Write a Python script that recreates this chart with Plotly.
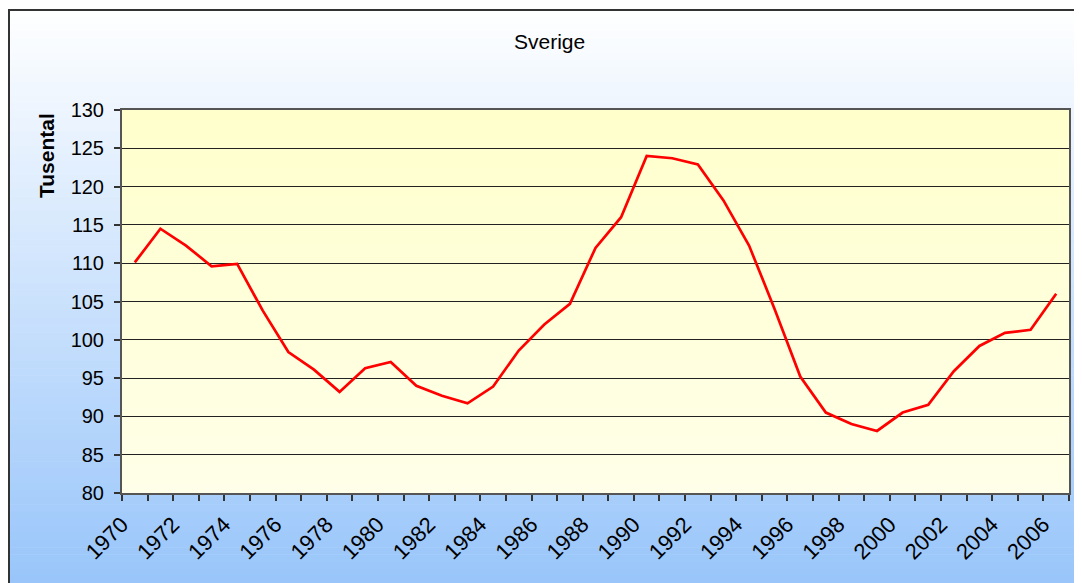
import plotly.graph_objects as go

years = [1970, 1971, 1972, 1973, 1974, 1975, 1976, 1977, 1978, 1979,
         1980, 1981, 1982, 1983, 1984, 1985, 1986, 1987, 1988, 1989,
         1990, 1991, 1992, 1993, 1994, 1995, 1996, 1997, 1998, 1999,
         2000, 2001, 2002, 2003, 2004, 2005, 2006]
values = [110.1, 114.5, 112.3, 109.6, 109.9, 103.8, 98.4, 96.1, 93.2, 96.3,
          97.1, 94.0, 92.7, 91.7, 93.9, 98.6, 102.0, 104.7, 112.0, 116.0,
          124.0, 123.7, 122.9, 118.2, 112.3, 104.0, 95.2, 90.5, 89.0, 88.1,
          90.5, 91.5, 95.9, 99.2, 100.9, 101.3, 106.0]
label_years = [1970, 1972, 1974, 1976, 1978, 1980, 1982, 1984, 1986, 1988,
               1990, 1992, 1994, 1996, 1998, 2000, 2002, 2004, 2006]
y_ticks = [80, 85, 90, 95, 100, 105, 110, 115, 120, 125, 130]

OFF = 8  # page body margin
W, H = 1082, 583  # figure overflows the window slightly so the background reaches the edges
# target plot area in screen pixels: x 122..1069, y 110..493
ML = 122 - OFF
MT = 110 - OFF
MR = W - (1069 - OFF)
MB = H - (493 - OFF)
PW = W - ML - MR
PH = H - MT - MB


def px_x(px):
    return (px - OFF - ML) / PW


def px_y(py):
    return (H - MB - (py - OFF)) / PH


def lerp(c0, c1, t):
    return "rgb(%d,%d,%d)" % tuple(round(a + (b - a) * t) for a, b in zip(c0, c1))


shapes = []
# outer chart gradient (white -> light blue)
top, bot = 10, 583
n = 80
for i in range(n):
    y0p = top + (bot - top) * i / n
    y1p = top + (bot - top) * (i + 1) / n
    if i == n - 1:
        y1p = 600
    shapes.append(dict(type="rect", xref="paper", yref="paper",
                       x0=px_x(8), x1=px_x(1100), y0=px_y(y1p + 0.5), y1=px_y(y0p),
                       fillcolor=lerp((255, 255, 255), (152, 197, 250), (i + 0.5) / n),
                       line=dict(width=0), layer="below"))
# plot area gradient (pale yellow)
n2 = 40
for i in range(n2):
    y0 = i / n2
    y1 = (i + 1) / n2 + 0.002
    shapes.append(dict(type="rect", xref="paper", yref="paper",
                       x0=0, x1=1, y0=y0, y1=min(y1, 1),
                       fillcolor=lerp((255, 255, 233), (255, 255, 204), (i + 0.5) / n2),
                       line=dict(width=0), layer="below"))
# chart border
shapes.append(dict(type="rect", xref="paper", yref="paper",
                   x0=px_x(9), x1=px_x(1120), y0=px_y(620), y1=px_y(10),
                   line=dict(color="#333333", width=2), fillcolor="rgba(0,0,0,0)",
                   layer="below"))

fig = go.Figure()
fig.add_trace(go.Scatter(x=years, y=values, mode="lines",
                         line=dict(color="#FF0000", width=2.7),
                         showlegend=False, hoverinfo="x+y"))

font = "Liberation Sans, Arial, sans-serif"
fig.update_layout(
    width=W, height=H,
    margin=dict(l=ML, r=MR, t=MT, b=MB),
    paper_bgcolor="white",
    plot_bgcolor="rgba(0,0,0,0)",
    shapes=shapes,
    showlegend=False,
    font=dict(family=font, color="black"),
    annotations=[
        dict(text="Sverige", xref="paper", yref="paper", x=px_x(549), y=px_y(41),
             showarrow=False, font=dict(size=21, family=font, color="black"),
             xanchor="center", yanchor="middle"),
        dict(text="<b>Tusental</b>", xref="paper", yref="paper", x=px_x(46), y=px_y(156),
             showarrow=False, textangle=-90, font=dict(size=21, family=font, color="black"),
             xanchor="center", yanchor="middle"),
    ],
)
fig.update_xaxes(
    range=[1969.5, 2006.5],
    tickmode="array", tickvals=label_years, ticktext=[str(v) for v in label_years],
    tickangle=-45, tickfont=dict(size=22, family=font, color="black"),
    ticks="outside", ticklen=8, tickcolor="rgba(0,0,0,0)",
    ticklabelshift=-13,
    minor=dict(tickmode="linear", tick0=1969.5, dtick=1, ticks="outside",
               ticklen=6, tickcolor="#333333", tickwidth=1.5, showgrid=False),
    showgrid=False, zeroline=False,
    showline=True, linecolor="#555555", linewidth=2, mirror=True,
)
fig.update_yaxes(
    range=[80, 130], tickmode="array", tickvals=y_ticks,
    tickfont=dict(size=20, family=font, color="black"),
    ticks="outside", ticklen=6, tickcolor="#333333", tickwidth=1.5,
    ticklabelstandoff=6,
    showgrid=True, gridcolor="#222222", gridwidth=1,
    zeroline=False,
    showline=True, linecolor="#555555", linewidth=2, mirror=True,
)

fig.write_html("out.html")
